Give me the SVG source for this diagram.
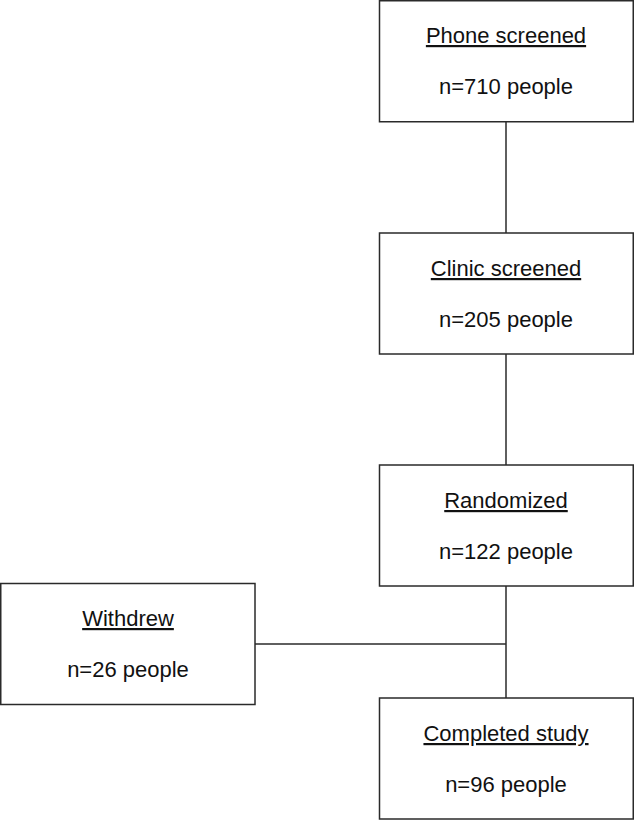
<svg xmlns="http://www.w3.org/2000/svg" width="634" height="820" viewBox="0 0 634 820">
<style>
.box{fill:#fff;stroke:#2a2a2a;stroke-width:1.5}
.t{font-family:"Liberation Sans",Arial,sans-serif;font-size:22px;fill:#111;text-anchor:middle}
.u{text-decoration:underline}
.ln{stroke:#2a2a2a;stroke-width:1.5;fill:none}
</style>
<rect width="634" height="820" fill="#fff"/>
<g id="connectors">
<line class="ln" x1="506" y1="122" x2="506" y2="233"/>
<line class="ln" x1="506" y1="354" x2="506" y2="465"/>
<line class="ln" x1="506" y1="586" x2="506" y2="698"/>
<line class="ln" x1="255" y1="644" x2="506" y2="644"/>
</g>
<g id="phone">
<rect class="box" x="379.5" y="0.75" width="253.75" height="121"/>
<text class="t u" x="506" y="43">Phone screened</text>
<text class="t" x="506" y="94">n=710 people</text>
</g>
<g id="clinic">
<rect class="box" x="379.5" y="233" width="253.75" height="121"/>
<text class="t u" x="506" y="276">Clinic screened</text>
<text class="t" x="506" y="327">n=205 people</text>
</g>
<g id="randomized">
<rect class="box" x="379.5" y="465" width="253.75" height="121"/>
<text class="t u" x="506" y="508">Randomized</text>
<text class="t" x="506" y="559">n=122 people</text>
</g>
<g id="withdrew">
<rect class="box" x="0.75" y="583.5" width="254.25" height="121"/>
<text class="t u" x="128" y="626">Withdrew</text>
<text class="t" x="128" y="677">n=26 people</text>
</g>
<g id="completed">
<rect class="box" x="379.5" y="698" width="253.75" height="121"/>
<text class="t u" x="506" y="741">Completed study</text>
<text class="t" x="506" y="792">n=96 people</text>
</g>
</svg>
